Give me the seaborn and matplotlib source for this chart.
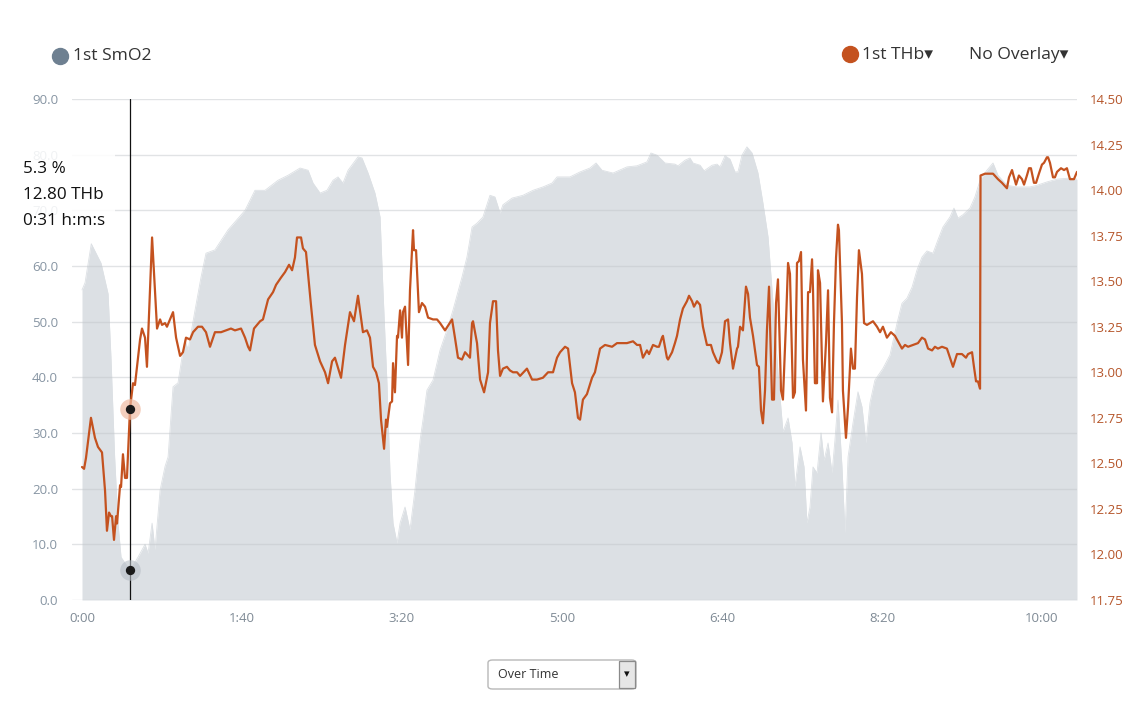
import matplotlib
matplotlib.use("Agg")
import matplotlib.pyplot as plt
import seaborn as sns
import numpy as np
from matplotlib.patches import Rectangle, FancyBboxPatch
from matplotlib.lines import Line2D
from matplotlib.ticker import FuncFormatter, FixedLocator

# ---------------- data ----------------
smo2_time = [0.0, 1.9, 5.8, 11.9, 16.3, 18.1, 20.4, 22.5, 24.4, 30.0, 35.0, 39.4, 41.3, 43.8, 45.6,
             48.8, 51.9, 53.8, 56.9, 60.0, 62.5, 64.4, 66.3, 70.6, 74.4, 77.5, 83.1, 91.3, 101.9,
             108.1, 114.4, 122.5, 128.8, 136.3, 141.3, 144.4, 148.8, 153.1, 156.9, 160.0, 163.1,
             166.3, 172.5, 175.0, 178.8, 183.1, 186.3, 188.1, 190.6, 192.5, 194.4, 196.9, 198.8,
             201.9, 205.0, 208.1, 211.3, 213.1, 215.6, 219.4, 223.8, 228.1, 231.9, 237.5, 240.6,
             243.8, 246.9, 250.6, 255.0, 258.1, 261.3, 263.1, 268.8, 275.6, 281.9, 288.1, 293.8,
             296.9, 305.0, 311.3, 317.5, 321.3, 325.0, 331.9, 340.6, 346.9, 353.1, 355.6, 359.4,
             364.4, 370.6, 372.5, 376.9, 380.0, 381.9, 386.3, 388.8, 393.8, 396.9, 398.8, 401.9,
             405.0, 408.1, 410.0, 412.5, 415.6, 418.8, 422.5, 425.6, 428.8, 431.9, 435.0, 438.1,
             441.3, 443.8, 445.6, 448.8, 451.3, 453.1, 455.0, 456.9, 459.4, 461.9, 463.8, 466.3,
             468.8, 470.6, 472.5, 475.0, 476.9, 478.8, 481.9, 485.0, 487.5, 490.0, 492.5, 495.6,
             500.6, 505.0, 509.4, 512.5, 515.6, 518.8, 521.9, 525.0, 528.1, 531.9, 535.0, 538.1,
             542.5, 545.0, 547.5, 550.6, 555.0, 558.1, 561.3, 565.6, 569.4, 572.5, 578.1, 584.4,
             592.5, 596.9, 603.1, 609.4, 617.5, 621.9]
smo2_value = [55.7, 57.0, 64.0, 60.5, 55.0, 43.6, 25.7, 13.8, 7.7, 5.3, 7.7, 10.0, 8.4, 13.8, 9.0,
              19.7, 24.0, 25.7, 38.3, 39.0, 43.6, 46.7, 44.9, 52.0, 58.0, 62.3, 62.9, 66.5, 70.0,
              73.6, 73.6, 75.4, 76.3, 77.6, 77.2, 74.9, 73.1, 73.6, 75.4, 76.0, 74.9,
              77.2, 79.6, 79.4, 76.7, 73.1, 68.8, 55.7, 39.0, 22.8, 13.8, 10.2, 13.8,
              16.7, 12.6, 19.7, 28.7, 32.3, 37.7, 39.5, 44.9, 48.5, 52.1, 58.0, 61.6,
              67.0, 67.7, 68.8, 72.7, 72.4, 69.5, 71.0, 72.2, 72.7, 73.6, 74.2, 74.9,
              76.0, 76.0, 76.9, 77.6, 78.5, 77.2, 76.7, 77.8, 78.0, 78.7, 80.3, 79.9,
              78.5, 78.3, 78.0, 79.0, 79.4, 78.5, 78.1, 77.1, 78.1, 78.3, 77.8, 79.8,
              79.2, 76.9, 76.9, 79.9, 81.4, 80.3, 76.7, 71.3, 65.2, 53.3, 40.8, 30.2,
              32.7, 28.2, 20.3, 27.5, 23.9, 13.8, 16.7, 23.9, 22.8, 30.0, 25.1, 28.2,
              22.8, 28.7, 35.9, 23.9, 12.0, 25.7, 31.8, 37.4, 34.7, 28.2, 35.4, 39.5,
              41.6, 44.0, 49.7, 53.3, 54.2, 56.2, 59.3, 61.6, 62.7, 62.3, 64.7, 67.0,
              68.8, 70.4, 68.6, 69.2, 70.4, 72.4, 75.4, 77.2, 78.5, 76.3, 74.5, 74.2,
              74.2, 74.5, 75.1, 75.6, 75.8, 75.6]

thb_time = [0.0, 1.3, 2.5, 5.6, 8.1, 10.0, 12.5, 14.4, 15.6, 16.9, 18.1, 18.8, 20.0, 21.3, 21.9,
            23.8, 24.4, 25.6, 26.9, 28.1, 30.0, 31.9, 33.1, 35.0, 36.3, 37.5, 39.4, 40.6, 42.5,
            43.8, 45.6, 46.9, 48.8, 50.0, 51.9, 53.1, 55.0, 56.9, 58.8, 61.3, 63.1, 65.0, 67.5,
            69.4, 72.5, 75.0, 77.5, 80.0, 83.1, 86.9, 93.1, 95.6, 99.4, 101.9, 103.8, 105.0,
            107.5, 111.3, 113.1, 116.3, 119.4, 121.3, 124.4, 126.9, 129.4, 131.3, 133.1, 134.4,
            136.9, 138.1, 140.0, 143.1, 145.6, 148.8, 151.9, 153.8, 156.3, 158.1, 161.9, 164.4,
            167.5, 170.0, 172.5, 174.4, 175.6, 178.1, 180.0, 181.9, 183.8, 185.6, 186.9, 188.8,
            190.0, 190.6, 192.5, 193.8, 194.4, 195.6, 196.9, 197.5, 198.8, 200.0, 200.6, 201.9,
            203.8, 205.0, 206.9, 207.5, 208.8, 210.6, 212.5, 214.4, 216.3, 219.4, 221.9, 223.8,
            226.9, 231.3, 233.1, 235.0, 237.5, 239.4, 242.5, 243.8, 244.4, 246.9, 248.8, 251.3,
            253.8, 255.0, 256.9, 258.8, 260.0, 261.3, 263.1, 265.6, 267.5, 269.4, 271.9, 273.8,
            278.1, 281.3, 284.4, 288.1, 291.3, 294.4, 296.9, 298.8, 301.9, 303.8, 306.3, 308.1,
            310.0, 311.3, 313.1, 315.6, 318.8, 320.6, 323.8, 326.9, 331.3, 334.4, 340.6, 344.4,
            346.9, 348.8, 350.6, 353.1, 354.4, 356.9, 359.4, 360.6, 362.5, 363.1, 365.6, 366.3,
            368.8, 370.6, 371.9, 373.8, 375.6, 378.1, 379.4, 381.3, 382.5, 384.4, 386.3, 388.1,
            390.6, 393.1, 394.4, 396.9, 398.1, 400.0, 401.9, 403.8, 405.0, 406.9, 409.4, 410.0,
            411.3, 413.1, 415.0, 416.3, 417.5, 419.4, 421.9, 423.1, 424.4, 425.6, 426.9, 428.1,
            429.4, 431.3, 432.5, 433.8, 435.0, 436.9, 438.1, 440.0, 441.3, 442.5, 444.4, 445.6,
            446.9, 448.1, 449.4, 450.6, 452.5, 453.8, 455.0, 456.3, 456.9, 458.1, 459.4, 460.0,
            461.3, 463.1, 465.0, 466.3, 467.5, 468.8, 470.0, 471.3, 472.5, 473.1, 475.0, 475.6,
            477.5, 478.8, 480.6, 481.9, 483.1, 484.4, 485.6, 487.5, 488.8, 490.6, 492.5, 494.4,
            496.9, 498.8, 500.6, 503.1, 505.6, 508.1, 510.0, 512.5, 514.4, 516.3, 519.4, 522.5,
            525.0, 526.9, 528.8, 531.3, 533.1, 535.0, 537.5, 540.6, 542.5, 544.4, 546.9, 550.0,
            552.5, 553.8, 556.3, 557.5, 558.8, 560.0, 561.3, 561.6, 564.4, 566.3, 569.4, 572.5,
            575.0, 578.1, 579.4, 581.3, 581.9, 583.8, 585.6, 587.5, 588.8, 590.6, 591.9, 593.1,
            595.0, 596.3, 598.1, 600.0, 601.3, 603.1, 603.8, 605.0, 606.9, 608.1, 609.4, 611.9,
            613.8, 615.6, 617.5, 620.0, 621.9]
thb_value = [12.48, 12.47, 12.53, 12.75, 12.64, 12.59, 12.56, 12.35, 12.13, 12.23, 12.21, 12.21,
             12.08, 12.21, 12.17, 12.38, 12.37, 12.55, 12.42, 12.42, 12.80, 12.94, 12.93, 13.08,
             13.18, 13.24, 13.19, 13.03, 13.45, 13.74, 13.45, 13.24, 13.29, 13.26, 13.27, 13.25,
             13.29, 13.33, 13.19, 13.09, 13.11, 13.19, 13.18, 13.22, 13.25, 13.25, 13.22, 13.14,
             13.22, 13.22, 13.24, 13.23, 13.24, 13.19, 13.14, 13.12, 13.24, 13.28, 13.29, 13.40,
             13.44, 13.48, 13.52, 13.55, 13.59, 13.56, 13.63, 13.74, 13.74, 13.68, 13.66, 13.37,
             13.15, 13.06, 13.00, 12.94, 13.06, 13.08, 12.97, 13.15, 13.33, 13.28, 13.42, 13.30,
             13.22, 13.23, 13.19, 13.03, 13.00, 12.94, 12.74, 12.58, 12.74, 12.70, 12.83, 12.84,
             13.05, 12.89, 13.20, 13.19, 13.34, 13.19, 13.33, 13.36, 13.04, 13.45, 13.78, 13.67,
             13.67, 13.33, 13.38, 13.36, 13.30, 13.29, 13.29, 13.27, 13.23, 13.29, 13.19, 13.08,
             13.07, 13.11, 13.08, 13.27, 13.28, 13.16, 12.96, 12.89, 13.00, 13.27, 13.39, 13.39,
             13.12, 12.98, 13.02, 13.03, 13.01, 13.00, 13.00, 12.98, 13.02, 12.96, 12.96, 12.97,
             13.00, 13.00, 13.08, 13.11, 13.14, 13.13, 12.94, 12.89, 12.75, 12.74, 12.85, 12.88,
             12.97, 13.00, 13.13, 13.15, 13.14, 13.16, 13.16, 13.17, 13.15, 13.15, 13.08, 13.12,
             13.10, 13.15, 13.14, 13.14, 13.19, 13.20, 13.08, 13.07, 13.11, 13.16, 13.20, 13.29,
             13.35, 13.39, 13.42, 13.39, 13.36, 13.39, 13.37, 13.25, 13.15, 13.15, 13.11, 13.06,
             13.05, 13.11, 13.28, 13.29, 13.16, 13.02, 13.13, 13.14, 13.25, 13.23, 13.47, 13.43,
             13.30, 13.20, 13.04, 13.03, 12.79, 12.72, 12.90, 13.23, 13.47, 12.85, 12.85, 13.38,
             13.51, 12.90, 12.85, 13.27, 13.60, 13.54, 12.86, 12.89, 13.60, 13.61, 13.66, 13.07,
             12.79, 13.44, 13.44, 13.62, 13.45, 12.94, 12.94, 13.56, 13.49, 12.84, 13.16, 13.45,
             12.86, 12.78, 13.27, 13.63, 13.81, 13.78, 13.27, 12.90, 12.64, 12.81, 13.13, 13.02,
             13.02, 13.41, 13.67, 13.54, 13.27, 13.26, 13.27, 13.28, 13.25, 13.22, 13.25, 13.19,
             13.22, 13.20, 13.17, 13.13, 13.15, 13.14, 13.15, 13.16, 13.19, 13.18, 13.13, 13.12,
             13.14, 13.13, 13.14, 13.13, 13.08, 13.03, 13.10, 13.10, 13.08, 13.10, 13.11, 13.03,
             12.95, 12.95, 12.91, 14.08, 14.09, 14.09, 14.09, 14.06, 14.04, 14.01, 14.07, 14.11,
             14.09, 14.03, 14.08, 14.06, 14.03, 14.08, 14.12, 14.12, 14.04, 14.04, 14.09, 14.14,
             14.15, 14.18, 14.18, 14.15, 14.07, 14.07, 14.10, 14.12, 14.11, 14.12, 14.06, 14.06,
             14.10]

left_ticks = [0, 10, 20, 30, 40, 50, 60, 70, 80, 90]
right_ticks = [11.75, 12.0, 12.25, 12.5, 12.75, 13.0, 13.25, 13.5, 13.75, 14.0, 14.25, 14.5]
x_ticks = [0, 100, 200, 300, 400, 500, 600]
x_tick_labels = ["0:00", "1:40", "3:20", "5:00", "6:40", "8:20", "10:00"]

cursor_time = 30.0
cursor_smo2 = 5.3
cursor_thb = 12.80
tooltip_lines = ["5.3 %", "12.80 THb", "0:31 h:m:s"]

# ---------------- style ----------------
sns.set_theme(style="white")
plt.rcParams['font.family'] = ['Open Sans', 'DejaVu Sans']

W, H = 1147, 701
fig = plt.figure(figsize=(W / 100, H / 100), dpi=100)
fig.patch.set_facecolor("white")

def fx(px):
    return px / W

def fy(py):
    return 1 - py / H

ax = fig.add_axes([fx(72), fy(600), fx(1077) - fx(72), fy(99) - fy(600)])
ax2 = ax.twinx()

AREA = "#dce0e4"
LINE = "#c4521f"
LEFT_TXT = "#8795a3"
RIGHT_TXT = "#b5552a"

# SmO2 area
ax.fill_between(smo2_time, smo2_value, 0, color=AREA, linewidth=0, zorder=1)
sns.lineplot(x=smo2_time, y=smo2_value, ax=ax, color=AREA, linewidth=0.6,
             sort=False, estimator=None, zorder=1)

# THb line
sns.lineplot(x=thb_time, y=thb_value, ax=ax2, color=LINE, linewidth=1.6,
             sort=False, estimator=None, zorder=3)

xmin, xmax = -6.25, 621.9
ax.set_xlim(xmin, xmax)
ax.set_ylim(0, 90)
ax2.set_ylim(11.75, 14.5)

ax.yaxis.set_major_locator(FixedLocator(left_ticks))
ax.yaxis.set_major_formatter(FuncFormatter(lambda v, p: f"{v:.1f}"))
ax2.yaxis.set_major_locator(FixedLocator(right_ticks))
ax2.yaxis.set_major_formatter(FuncFormatter(lambda v, p: f"{v:.2f}"))
ax.set_xticks(x_ticks)
ax.set_xticklabels(x_tick_labels)

ax.grid(axis="y", color="#c4c8cc", alpha=0.5, linewidth=1.0, zorder=2)
ax.grid(axis="x", visible=False)
ax.set_axisbelow(False)
for a in (ax, ax2):
    for s in a.spines.values():
        s.set_visible(False)
ax.set_xlabel("")
ax.set_ylabel("")
ax2.set_ylabel("")

ax.tick_params(axis="y", length=0, pad=10, labelsize=9.5, labelcolor=LEFT_TXT)
ax.tick_params(axis="x", length=0, pad=8.5, labelsize=9.5, labelcolor="#7f8a95")
ax2.tick_params(axis="y", length=0, pad=9, labelsize=9.5, labelcolor=RIGHT_TXT)

# cursor line and markers
ax.axvline(cursor_time, color="#111111", linewidth=0.9, zorder=4)
ax.scatter([cursor_time], [cursor_smo2], s=220, color="#b7bec6", alpha=0.6, zorder=5, linewidths=0)
ax.scatter([cursor_time], [cursor_smo2], s=45, color="#1a1a1a", zorder=6, linewidths=0)
ax2.scatter([cursor_time], [cursor_thb], s=220, color="#eebba3", alpha=0.7, zorder=5, linewidths=0)
ax2.scatter([cursor_time], [cursor_thb], s=45, color="#1a1a1a", zorder=6, linewidths=0)

# tooltip box
fig.add_artist(Rectangle((fx(0), fy(236)), fx(115) - fx(0), fy(144) - fy(236),
                         transform=fig.transFigure, facecolor="white", alpha=0.88,
                         edgecolor="none", zorder=10))
for txt, py in zip(tooltip_lines, [169, 195, 221]):
    fig.text(fx(23), fy(py), txt, fontsize=12.3, color="#111111", va="center", ha="left", zorder=11)

# top legend
fam = ['Open Sans', 'DejaVu Sans']
fig.add_artist(Line2D([fx(60)], [fy(56)], marker="o", markersize=11.5, color="#6e8091",
                      linestyle="none", transform=fig.transFigure))
fig.text(fx(73), fy(56), "1st SmO2", fontsize=12.6, color="#333333", va="center", ha="left")
fig.add_artist(Line2D([fx(850)], [fy(54)], marker="o", markersize=11.5, color=LINE,
                      linestyle="none", transform=fig.transFigure))
fig.text(fx(862), fy(55), "1st THb\u25BE", fontsize=12.6, color="#333333", va="center", ha="left",
         family=fam)
fig.text(fx(969), fy(55), "No Overlay\u25BE", fontsize=12.6, color="#333333", va="center", ha="left",
         family=fam)

# bottom dropdown
fig.add_artist(FancyBboxPatch((fx(488), fy(689)), fx(636) - fx(488), fy(660) - fy(689),
                              boxstyle="round,pad=0,rounding_size=0.004",
                              transform=fig.transFigure, facecolor="white",
                              edgecolor="#b8b8b8", linewidth=1.0, zorder=10))
fig.add_artist(Rectangle((fx(619), fy(688)), fx(635) - fx(619), fy(661) - fy(688),
                         transform=fig.transFigure, facecolor="#e6e6e6",
                         edgecolor="#8a8a8a", linewidth=0.9, zorder=11))
fig.text(fx(498), fy(674), "Over Time", fontsize=9, color="#333333", va="center", ha="left", zorder=12)
fig.text(fx(627), fy(674), "\u25BE", fontsize=8, color="#111111", va="center", ha="center",
         family=["DejaVu Sans"], zorder=12)

fig.savefig("out.png", dpi=100, facecolor="white")
